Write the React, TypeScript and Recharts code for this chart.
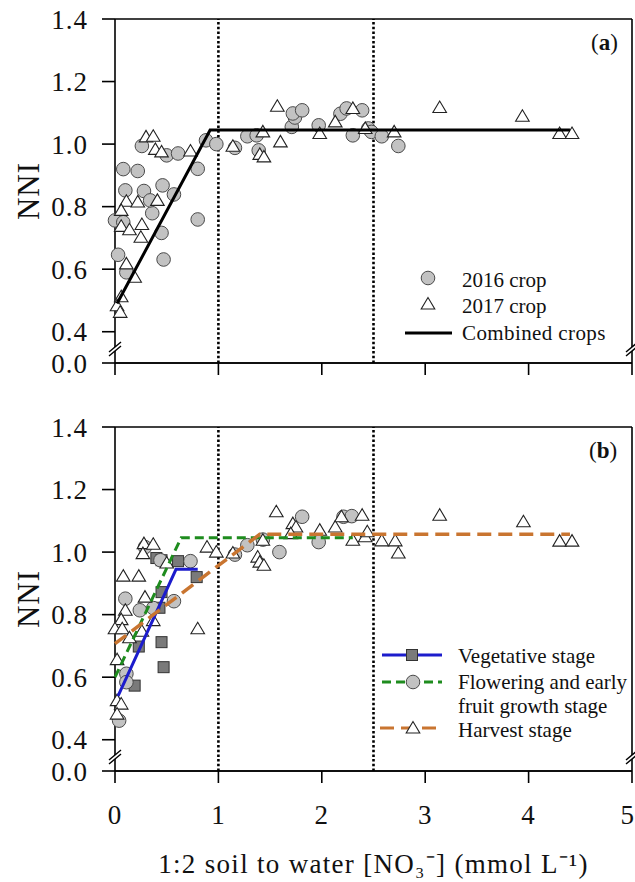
import React from 'react';
import { ScatterChart, Scatter, XAxis, YAxis, ReferenceLine, Legend } from 'recharts';

const FONT = '"Liberation Serif", "Times New Roman", serif';

// shared axes
const xTicks = [0, 1, 2, 3, 4, 5];
const yTicks = [0.3, 0.4, 0.6, 0.8, 1.0, 1.2, 1.4]; // 0.3 is drawn as the broken "0.0"
const thresholds = [1, 2.5];

// panel (a)
const crop2016 = [
  { x: 0.08, y: 0.92 }, { x: 0.22, y: 0.914 }, { x: 0.1, y: 0.852 }, { x: 0.28, y: 0.85 },
  { x: 0.46, y: 0.868 }, { x: 0.57, y: 0.839 }, { x: 0.36, y: 0.779 }, { x: 0.34, y: 0.82 },
  { x: 0.0, y: 0.756 }, { x: 0.08, y: 0.75 }, { x: 0.45, y: 0.716 }, { x: 0.03, y: 0.646 },
  { x: 0.47, y: 0.631 }, { x: 0.11, y: 0.59 }, { x: 0.8, y: 0.759 }, { x: 0.8, y: 0.921 },
  { x: 0.26, y: 0.994 }, { x: 0.5, y: 0.964 }, { x: 0.61, y: 0.97 }, { x: 0.88, y: 1.012 },
  { x: 0.98, y: 1.0 }, { x: 1.16, y: 0.988 }, { x: 1.28, y: 1.025 }, { x: 1.37, y: 1.028 },
  { x: 1.39, y: 0.98 }, { x: 1.71, y: 1.055 }, { x: 1.74, y: 1.085 }, { x: 1.72, y: 1.098 },
  { x: 1.81, y: 1.108 }, { x: 1.97, y: 1.06 }, { x: 2.18, y: 1.097 }, { x: 2.24, y: 1.114 },
  { x: 2.39, y: 1.108 }, { x: 2.3, y: 1.028 }, { x: 2.45, y: 1.05 }, { x: 2.48, y: 1.039 },
  { x: 2.58, y: 1.025 }, { x: 2.74, y: 0.994 },
];
const crop2017 = [
  { x: 0.3, y: 1.023 }, { x: 0.37, y: 1.025 }, { x: 0.39, y: 0.983 }, { x: 0.45, y: 0.975 },
  { x: 0.73, y: 0.978 }, { x: 0.11, y: 0.817 }, { x: 0.22, y: 0.815 }, { x: 0.41, y: 0.82 },
  { x: 0.06, y: 0.788 }, { x: 0.06, y: 0.737 }, { x: 0.14, y: 0.726 }, { x: 0.26, y: 0.743 },
  { x: 0.25, y: 0.702 }, { x: 0.11, y: 0.617 }, { x: 0.19, y: 0.574 }, { x: 0.06, y: 0.512 },
  { x: 0.02, y: 0.483 }, { x: 0.05, y: 0.462 }, { x: 1.14, y: 0.993 }, { x: 1.43, y: 1.039 },
  { x: 1.4, y: 0.967 }, { x: 1.44, y: 0.959 }, { x: 1.57, y: 1.121 }, { x: 1.6, y: 1.007 },
  { x: 1.98, y: 1.034 }, { x: 2.13, y: 1.071 }, { x: 2.3, y: 1.114 }, { x: 2.42, y: 1.05 },
  { x: 2.7, y: 1.039 }, { x: 3.14, y: 1.117 }, { x: 3.94, y: 1.089 }, { x: 4.3, y: 1.034 },
  { x: 4.42, y: 1.034 },
];
const combinedFit = [{ x: 0.02, y: 0.49 }, { x: 0.92, y: 1.045 }, { x: 4.4, y: 1.045 }];

// panel (b)
const vegetative = [
  { x: 0.4, y: 0.981 }, { x: 0.45, y: 0.974 }, { x: 0.61, y: 0.971 }, { x: 0.79, y: 0.92 },
  { x: 0.45, y: 0.872 }, { x: 0.43, y: 0.822 }, { x: 0.23, y: 0.698 }, { x: 0.45, y: 0.712 },
  { x: 0.47, y: 0.632 }, { x: 0.19, y: 0.573 },
];
const vegetativeFit = [{ x: 0.03, y: 0.54 }, { x: 0.59, y: 0.945 }, { x: 0.8, y: 0.945 }];
const flowering = [
  { x: 0.29, y: 1.016 }, { x: 0.44, y: 0.974 }, { x: 0.73, y: 0.971 }, { x: 0.1, y: 0.851 },
  { x: 0.24, y: 0.814 }, { x: 0.37, y: 0.821 }, { x: 0.57, y: 0.843 }, { x: 0.11, y: 0.611 },
  { x: 0.11, y: 0.584 }, { x: 0.04, y: 0.461 }, { x: 1.16, y: 0.992 }, { x: 1.28, y: 1.022 },
  { x: 1.43, y: 1.04 }, { x: 1.59, y: 1.0 }, { x: 1.81, y: 1.113 }, { x: 1.97, y: 1.032 },
  { x: 2.21, y: 1.113 }, { x: 2.29, y: 1.115 },
];
const floweringFit = [{ x: 0.0, y: 0.6 }, { x: 0.64, y: 1.046 }, { x: 2.3, y: 1.046 }];
const harvest = [
  { x: 0.28, y: 1.027 }, { x: 0.37, y: 1.025 }, { x: 0.27, y: 0.995 }, { x: 0.5, y: 0.965 },
  { x: 0.08, y: 0.923 }, { x: 0.23, y: 0.923 }, { x: 0.29, y: 0.856 }, { x: 0.1, y: 0.814 },
  { x: 0.06, y: 0.784 }, { x: 0.0, y: 0.755 }, { x: 0.07, y: 0.755 }, { x: 0.14, y: 0.726 },
  { x: 0.26, y: 0.747 }, { x: 0.37, y: 0.781 }, { x: 0.8, y: 0.755 }, { x: 0.02, y: 0.656 },
  { x: 0.02, y: 0.525 }, { x: 0.06, y: 0.514 }, { x: 0.02, y: 0.482 }, { x: 0.89, y: 1.016 },
  { x: 0.98, y: 1.0 }, { x: 1.14, y: 0.997 }, { x: 1.38, y: 0.984 }, { x: 1.4, y: 0.968 },
  { x: 1.44, y: 0.958 }, { x: 1.43, y: 1.038 }, { x: 1.56, y: 1.129 }, { x: 1.72, y: 1.091 },
  { x: 1.75, y: 1.08 }, { x: 1.7, y: 1.059 }, { x: 1.98, y: 1.07 }, { x: 2.13, y: 1.08 },
  { x: 2.19, y: 1.113 }, { x: 2.39, y: 1.118 }, { x: 2.3, y: 1.038 }, { x: 2.42, y: 1.049 },
  { x: 2.44, y: 1.065 }, { x: 2.58, y: 1.036 }, { x: 2.71, y: 1.036 }, { x: 2.74, y: 0.997 },
  { x: 3.14, y: 1.118 }, { x: 3.95, y: 1.097 }, { x: 4.3, y: 1.035 }, { x: 4.42, y: 1.035 },
];
const harvestFit = [{ x: 0.0, y: 0.707 }, { x: 1.4, y: 1.057 }, { x: 4.4, y: 1.057 }];

const BLUE = '#1c1ccc';
const GREEN = '#1e8c1e';
const ORANGE = '#c97530';

const Dot = (p: any) => (
  <circle cx={p.cx} cy={p.cy} r={6.8} fill="#c2c2c2" stroke="#4a4a4a" strokeWidth={1} />
);
const Tri = (p: any) => (
  <polygon
    points={`${p.cx},${p.cy - 6.5} ${p.cx - 6.8},${p.cy + 5} ${p.cx + 6.8},${p.cy + 5}`}
    fill="#fff" stroke="#222" strokeWidth={1.1}
  />
);
const Sq = (p: any) => (
  <rect x={p.cx - 5.5} y={p.cy - 5.5} width={11} height={11} fill="#7a7a7a" stroke="#333" strokeWidth={1} />
);
const NoMark = () => <g />;

const tickStyle = { fontSize: 27, fontFamily: FONT, fill: '#111', letterSpacing: 1 };
const yFmt = (v: number) => (v < 0.35 ? '0.0' : v.toFixed(1));
const nniLabel = {
  value: 'NNI', angle: -90, position: 'insideLeft', offset: 28,
  style: { textAnchor: 'middle', fontSize: 31, fontFamily: FONT, fill: '#111', letterSpacing: 1 },
};

// x tick text; the last one ("5") sits on the right edge, so anchor it at its end
const XTick = (p: any) => {
  const last = p.payload.value === xTicks[xTicks.length - 1];
  return (
    <text x={p.x + (last ? 3 : 0)} y={p.y} dy="0.71em" textAnchor={last ? 'end' : 'middle'}
      style={tickStyle}>
      {p.payload.value}
    </text>
  );
};

const LegendA = () => (
  <svg width={235} height={100} style={{ fontFamily: FONT, fontSize: 21 }}>
    <Dot cx={28} cy={23} />
    <Tri cx={28} cy={49} />
    <line x1={5} x2={52} y1={78} y2={78} stroke="#000" strokeWidth={3} />
    <text x={62} y={32} fill="#111">2016 crop</text>
    <text x={62} y={58} fill="#111">2017 crop</text>
    <text x={62} y={85} fill="#111" letterSpacing={0.4}>Combined crops</text>
  </svg>
);

const LegendB = () => (
  <svg width={255} height={110} style={{ fontFamily: FONT, fontSize: 21 }}>
    <line x1={2} x2={62} y1={15} y2={15} stroke={BLUE} strokeWidth={3} />
    <Sq cx={32} cy={15} />
    <line x1={2} x2={62} y1={42} y2={42} stroke={GREEN} strokeWidth={3} strokeDasharray="9 5" />
    <Dot cx={33} cy={42} />
    <line x1={0} x2={62} y1={88} y2={88} stroke={ORANGE} strokeWidth={3} strokeDasharray="14 7" />
    <Tri cx={33} cy={88} />
    <text x={78} y={23} fill="#111">Vegetative stage</text>
    <text x={78} y={49} fill="#111">Flowering and early</text>
    <text x={78} y={73} fill="#111">fruit growth stage</text>
    <text x={78} y={97} fill="#111">Harvest stage</text>
  </svg>
);

const axisLine = { stroke: '#000', strokeWidth: 1.6 };

const Frame = () => (
  <>
    <ReferenceLine y={1.4} stroke="#000" strokeWidth={1.6} />
    <ReferenceLine y={0.3} stroke="#000" strokeWidth={1.6} />
    <ReferenceLine x={5} stroke="#000" strokeWidth={1.6} />
    {thresholds.map((t) => (
      <ReferenceLine key={t} x={t} stroke="#000" strokeWidth={2.6} strokeDasharray="2.5 2.2" />
    ))}
  </>
);

const Break = ({ x, y }: { x: number; y: number }) => (
  <g stroke="#000" strokeWidth={1.4}>
    <polygon points={`${x - 6},${y + 3} ${x + 6},${y - 7} ${x + 6},${y - 3} ${x - 6},${y + 7}`} fill="#fff" stroke="none" />
    <line x1={x - 6} y1={y + 3} x2={x + 6} y2={y - 7} />
    <line x1={x - 6} y1={y + 7} x2={x + 6} y2={y - 3} />
  </g>
);

export default function App() {
  return (
    <div style={{ position: 'absolute', left: 0, top: 0, width: 635, height: 882, background: '#fff', overflow: 'hidden' }}>
      <div style={{ position: 'absolute', left: 0, top: 0 }}>
        <ScatterChart width={635} height={380} margin={{ top: 19, right: 3, left: 0, bottom: 0 }}>
          <XAxis dataKey="x" type="number" domain={[0, 5]} ticks={xTicks} interval={0} height={17} tickSize={12}
            tick={NoMark} axisLine={axisLine} tickLine={axisLine} />
          <YAxis dataKey="y" type="number" domain={[0.3, 1.4]} ticks={yTicks} interval={0} width={115} tickSize={13}
            tickMargin={14} tickFormatter={yFmt} tick={tickStyle} axisLine={axisLine} tickLine={axisLine}
            label={nniLabel} />
          {Frame()}
          <Scatter name="2016 crop" data={crop2016} shape={Dot} isAnimationActive={false} legendType="none" />
          <Scatter name="2017 crop" data={crop2017} shape={Tri} isAnimationActive={false} legendType="none" />
          <Scatter name="Combined crops" data={combinedFit} shape={NoMark} line={{ stroke: '#000', strokeWidth: 3 }}
            isAnimationActive={false} legendType="none" />
          <Legend layout="vertical" align="center" verticalAlign="middle" content={LegendA}
            wrapperStyle={{ left: 400, top: 255, width: 235, height: 100 }} />
        </ScatterChart>
      </div>
      <div style={{ position: 'absolute', left: 0, top: 380 }}>
        <ScatterChart width={635} height={502} margin={{ top: 47, right: 3, left: 0, bottom: 0 }}>
          <XAxis dataKey="x" type="number" domain={[0, 5]} ticks={xTicks} interval={0} height={111} tickSize={12}
            tickMargin={22} tick={XTick} axisLine={axisLine} tickLine={axisLine}
            label={{ value: '1:2 soil to water [NO₃⁻] (mmol L⁻¹)', position: 'insideBottom', offset: 9,
              style: { fontSize: 27, fontFamily: FONT, fill: '#111', letterSpacing: 1.3 } }} />
          <YAxis dataKey="y" type="number" domain={[0.3, 1.4]} ticks={yTicks} interval={0} width={115} tickSize={13}
            tickMargin={14} tickFormatter={yFmt} tick={tickStyle} axisLine={axisLine} tickLine={axisLine}
            label={nniLabel} />
          {Frame()}
          <Scatter name="Vegetative stage" data={vegetative} shape={Sq} isAnimationActive={false} legendType="none" />
          <Scatter name="Flowering and early fruit growth stage" data={flowering} shape={Dot} isAnimationActive={false} legendType="none" />
          <Scatter name="Harvest stage" data={harvest} shape={Tri} isAnimationActive={false} legendType="none" />
          <Scatter data={vegetativeFit} shape={NoMark} line={{ stroke: BLUE, strokeWidth: 3 }}
            isAnimationActive={false} legendType="none" />
          <Scatter data={floweringFit} shape={NoMark} line={{ stroke: GREEN, strokeWidth: 3, strokeDasharray: '9 5' }}
            isAnimationActive={false} legendType="none" />
          <Scatter data={harvestFit} shape={NoMark} line={{ stroke: ORANGE, strokeWidth: 3.5, strokeDasharray: '14 7' }}
            isAnimationActive={false} legendType="none" />
          <Legend layout="vertical" align="center" verticalAlign="middle" content={LegendB}
            wrapperStyle={{ left: 380, top: 260, width: 255, height: 110 }} />
        </ScatterChart>
      </div>
      <svg width={635} height={882} style={{ position: 'absolute', left: 0, top: 0, pointerEvents: 'none' }}>
        <Break x={115} y={349} />
        <Break x={632} y={349} />
        <Break x={115} y={757} />
        <Break x={632} y={757} />
        <text x={591} y={50} style={{ fontFamily: FONT, fontSize: 23 }} fill="#111">
          (<tspan fontWeight="bold">a</tspan>)
        </text>
        <text x={589} y={458} style={{ fontFamily: FONT, fontSize: 23 }} fill="#111">
          (<tspan fontWeight="bold">b</tspan>)
        </text>
      </svg>
    </div>
  );
}
